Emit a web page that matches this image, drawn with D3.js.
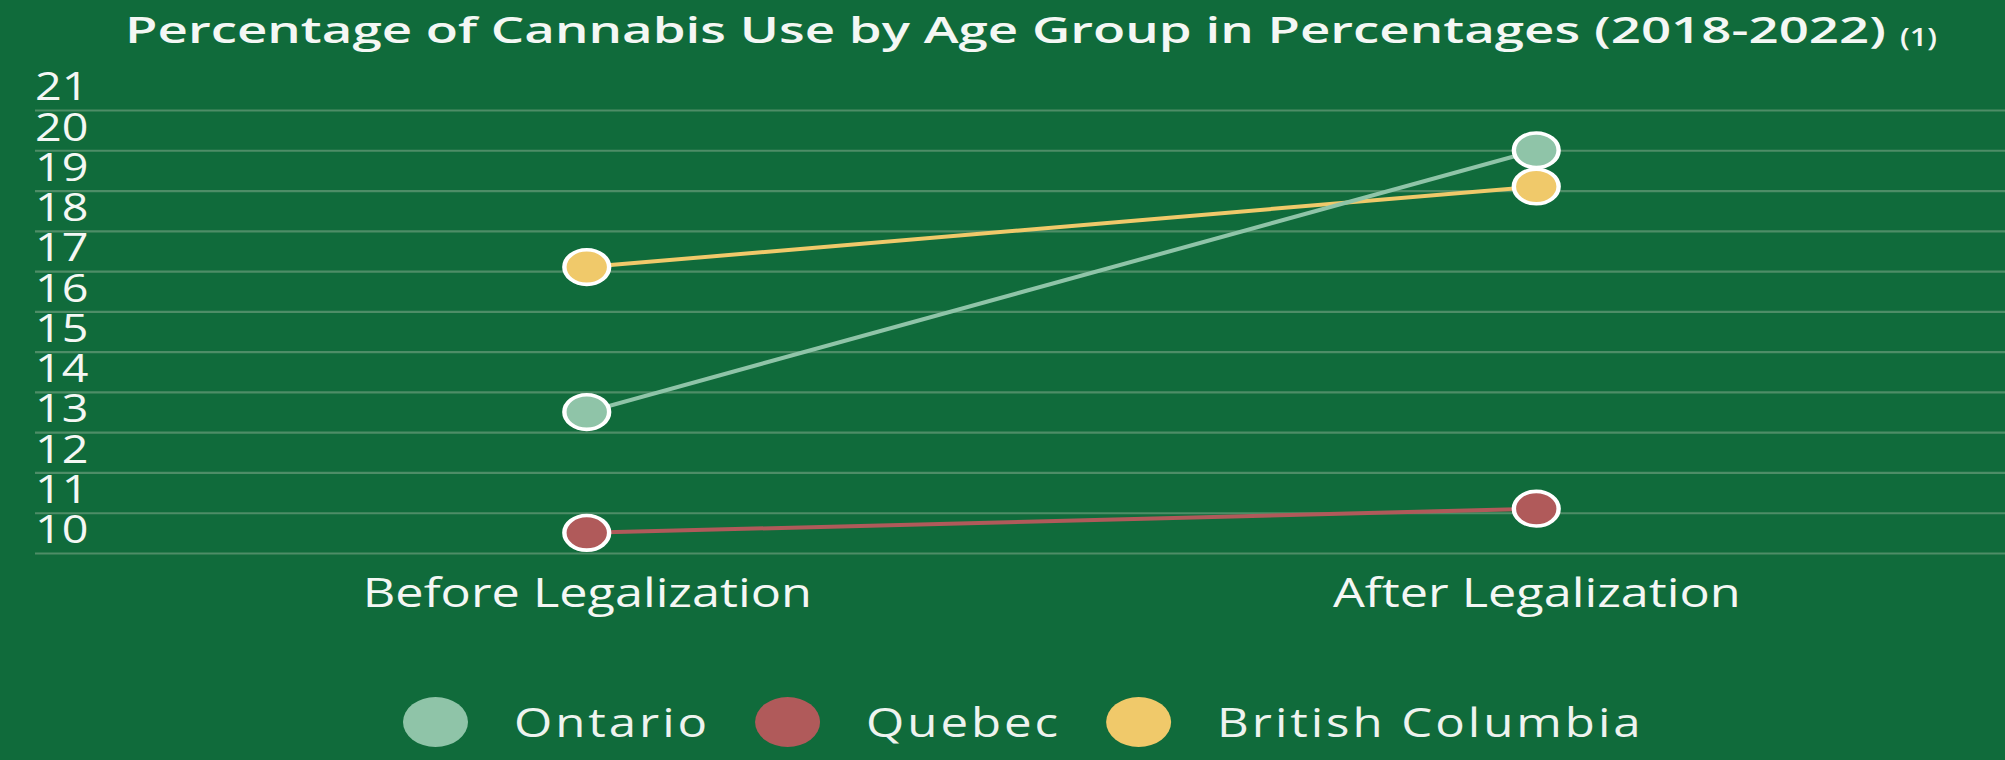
<!DOCTYPE html>
<html>
<head>
<meta charset="utf-8">
<script src="https://cdn.jsdelivr.net/npm/d3@7"></script>
<style>
  html, body { margin: 0; padding: 0; background: #106b3b; }
  svg { display: block; }
</style>
</head>
<body>
<script>
// ---- data ----
const categories = ["Before Legalization", "After Legalization"];
const seriesNames = ["Ontario", "Quebec", "British Columbia"];
const ontarioValues = [12.5, 19.0];
const quebecValues = [9.5, 10.1];
const bcValues = [16.1, 18.1];
const seriesColors = ["#8fc4a8", "#b05a5a", "#f0c96a"];
const gridValues = [9, 10, 11, 12, 13, 14, 15, 16, 17, 18, 19, 20];
const tickLabels = [10, 11, 12, 13, 14, 15, 16, 17, 18, 19, 20, 21];
const titleText = "Percentage of Cannabis Use by Age Group in Percentages (2018-2022)";
const titleNote = "(1)";

const series = seriesNames.map((name, i) => ({
  name,
  color: seriesColors[i],
  values: [ontarioValues, quebecValues, bcValues][i]
}));

// ---- layout ----
const W = 2005, H = 760;
const SX = 1.23;               // horizontal stretch of the original picture
const L = v => v / SX;         // real px -> logical px

const svg = d3.select("body").append("svg")
  .attr("width", W).attr("height", H);
svg.append("rect").attr("width", W).attr("height", H).attr("fill", "#106b3b");

const g = svg.append("g").attr("transform", `scale(${SX},1)`);

const x = d3.scalePoint().domain(categories).range([L(112), L(2011)]).padding(0.5);
const y = d3.scaleLinear().domain([9, 20]).range([553, 110]);

// title
g.append("text")
  .attr("x", L(125)).attr("y", 43)
  .attr("textLength", L(1761)).attr("lengthAdjust", "spacingAndGlyphs")
  .attr("font-family", "Open Sans").attr("font-weight", 600)
  .attr("font-size", 36).attr("fill", "#f4f7f4")
  .text(titleText);
g.append("text")
  .attr("x", L(1900)).attr("y", 46)
  .attr("textLength", L(37)).attr("lengthAdjust", "spacingAndGlyphs")
  .attr("font-family", "Open Sans").attr("font-weight", 600)
  .attr("font-size", 26).attr("fill", "#f4f7f4")
  .text(titleNote);

// gridlines
const grid = g.append("g").attr("transform", `translate(${L(35)},0)`)
  .call(d3.axisRight(y).tickValues(gridValues).tickSize(L(2005) - L(35)).tickFormat(""));
grid.select(".domain").remove();
grid.selectAll("line").attr("stroke", "#4e8d67").attr("stroke-width", 2.2);

// y labels
const yl = g.append("g").attr("transform", `translate(${L(35)},0)`)
  .call(d3.axisRight(y).tickValues(tickLabels).tickSize(0).tickPadding(0).tickFormat(d3.format("d")));
yl.select(".domain").remove();
yl.selectAll("text")
  .attr("x", 0).attr("dy", null).attr("y", 30)
  .attr("font-family", "Open Sans").attr("font-size", 38)
  .attr("fill", "#f4f7f4");

// x labels
const xa = g.append("g").attr("transform", `translate(0,553)`)
  .call(d3.axisBottom(x).tickSize(0).tickPadding(0));
xa.select(".domain").remove();
xa.selectAll("text")
  .attr("dy", null).attr("y", 54)
  .attr("font-family", "Open Sans").attr("font-size", 41)
  .attr("fill", "#f4f7f4");

// lines
const line = d3.line().x((d, i) => x(categories[i])).y(d => y(d));
const lineOrder = [1, 2, 0];
g.append("g").selectAll("path")
  .data(lineOrder.map(i => series[i]))
  .join("path")
  .attr("d", d => line(d.values))
  .attr("fill", "none")
  .attr("stroke", d => d.color)
  .attr("stroke-width", 4);

// points
series.forEach(s => {
  g.append("g").selectAll("ellipse")
    .data(s.values)
    .join("ellipse")
    .attr("cx", (d, i) => x(categories[i]))
    .attr("cy", d => y(d))
    .attr("rx", 18.2).attr("ry", 17.3)
    .attr("fill", s.color)
    .attr("stroke", "#ffffff").attr("stroke-width", 3.6);
});

// legend
const legend = g.append("g");
let cur = L(403);
const legY = 722;
series.forEach(s => {
  const rx = L(65) / 2;
  legend.append("ellipse")
    .attr("cx", cur + rx).attr("cy", legY)
    .attr("rx", rx).attr("ry", 25)
    .attr("fill", s.color);
  const t = legend.append("text")
    .attr("x", cur + 2 * rx + L(46)).attr("y", 737)
    .attr("font-family", "Open Sans").attr("font-size", 40)
    .attr("letter-spacing", 2.4)
    .attr("fill", "#eef3ef")
    .text(s.name);
  cur = cur + 2 * rx + L(46) + t.node().getComputedTextLength() + L(45);
});
</script>
</body>
</html>
